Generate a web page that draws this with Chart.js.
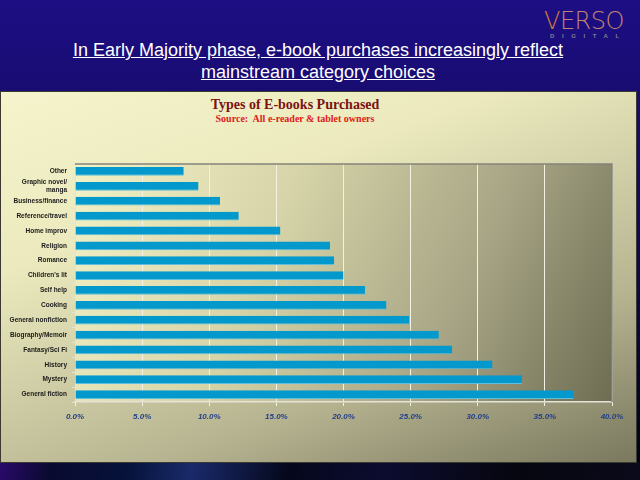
<!DOCTYPE html>
<html>
<head>
<meta charset="utf-8">
<script src="https://cdn.jsdelivr.net/npm/chart.js@4.4.0/dist/chart.umd.min.js"></script>
<style>
  html, body { margin: 0; padding: 0; }
  body { width: 640px; height: 480px; position: relative; overflow: hidden;
         background: linear-gradient(180deg, #1d0e84 0%, #120a5a 45%, #02020c 100%); font-family: "Liberation Sans", Arial, sans-serif; }
  #bottom { position: absolute; left: 0; top: 462px; width: 640px; height: 18px;
            background: linear-gradient(100deg, #2a0a6a 0%, #0a0a30 8%, #06123a 20%, #1a2a6a 30%, #05081c 45%, #0c0c30 60%, #060610 80%, #0a0a1a 100%); }
  #panel { position: absolute; left: 0; top: 91px; width: 637px; height: 372px; box-sizing: border-box;
           border: 1px solid #3a3a30;
           background: linear-gradient(160deg, #f6f4cc 0%, #ebe9bd 30%, #b8b692 70%, #7a785e 100%); }
  #headline { position: absolute; left: 0; top: 39px; width: 636px; text-align: center; color: #fff;
              font-family: "Liberation Sans", Arial, sans-serif; font-size: 18px; line-height: 22px;
              text-decoration: underline; }
  #logo { position: absolute; left: 544px; top: 7px; font-family: "DejaVu Sans", sans-serif; font-weight: 200; font-size: 24px;
          letter-spacing: -0.5px; color: #c08470; }
  #logo .v { color: #d07a38; }
  #digital { position: absolute; left: 550px; top: 33px; font-size: 6px; font-weight: bold; letter-spacing: 7.6px; color: #80808e; }
  #ctitle { position: absolute; left: 150px; width: 290px; top: 97px; text-align: center; font-family: "Liberation Serif", serif; }
  #ctitle .t { font-weight: bold; font-size: 14px; color: #7a1212; line-height: 16px; }
  #ctitle .s { font-weight: bold; font-size: 10px; color: #e0201a; line-height: 12px; }
  canvas { position: absolute; left: 0; top: 0; }
</style>
</head>
<body>
<div id="bottom"></div>
<div id="panel"></div>
<div id="headline">In Early Majority phase, e-book purchases increasingly reflect<br>mainstream category choices</div>
<div id="logo"><span class="v">V</span>ERSO</div>
<div id="digital">DIGITAL</div>
<div id="ctitle"><div class="t">Types of E-books Purchased</div><div class="s">Source:&nbsp; All e-reader &amp; tablet owners</div></div>
<canvas id="grafico" width="640" height="480"></canvas>
<script>
// categories from top to bottom
var categorie = ['Other', ['Graphic novel/', 'manga'], 'Business/finance', 'Reference/travel', 'Home improv',
    'Religion', 'Romance', "Children's lit", 'Self help', 'Cooking', 'General nonfiction',
    'Biography/Memoir', 'Fantasy/Sci Fi', 'History', 'Mystery', 'General fiction'];
// percent of owners
var percentuali = [8.1, 9.2, 10.8, 12.2, 15.3, 19.0, 19.3, 20.0, 21.6, 23.2, 24.9, 27.1, 28.1, 31.1, 33.3, 37.1];
var tickX = [0, 5, 10, 15, 20, 25, 30, 35, 40];

// gradient background + top/right border of the plot area
var sfondoPlot = {
    id: 'sfondoPlot',
    beforeDraw: function (chart) {
        var a = chart.chartArea;
        var ctx = chart.ctx;
        var g = ctx.createLinearGradient(a.left, a.top, a.right, a.bottom);
        g.addColorStop(0, '#f3f1c6');
        g.addColorStop(0.35, '#d6d4a8');
        g.addColorStop(0.7, '#a6a484');
        g.addColorStop(1, '#6e6c52');
        ctx.save();
        ctx.fillStyle = g;
        ctx.fillRect(a.left, a.top, a.right - a.left, a.bottom - a.top);
        ctx.restore();
    },
    afterDraw: function (chart) {
        var a = chart.chartArea;
        var ctx = chart.ctx;
        ctx.save();
        ctx.strokeStyle = '#85847a';
        ctx.lineWidth = 1.5;
        ctx.beginPath();
        ctx.moveTo(a.left, a.top);
        ctx.lineTo(a.right, a.top);
        ctx.lineTo(a.right, a.bottom);
        ctx.stroke();
        ctx.restore();
    }
};

var chart = new Chart(document.getElementById('grafico'), {
    type: 'bar',
    data: {
        labels: categorie,
        datasets: [{
            label: 'Types of E-books Purchased',
            data: percentuali,
            backgroundColor: '#0399cc',
            borderColor: '#5cc0dc',
            borderWidth: { bottom: 1 },
            borderSkipped: false,
            categoryPercentage: 1,
            barPercentage: 0.58
        }]
    },
    options: {
        indexAxis: 'y',
        responsive: false,
        animation: false,
        layout: { padding: { left: 0, top: 164, right: 28, bottom: 56 } },
        plugins: { legend: { display: false }, tooltip: { enabled: false } },
        scales: {
            x: {
                min: 0, max: 40,
                afterBuildTicks: function (s) { s.ticks = tickX.map(function (v) { return { value: v }; }); },
                afterFit: function (s) { s.height = 22; },
                grid: { color: '#f2f1e2', lineWidth: 1, tickLength: 4 },
                border: { color: '#e4e3d6', width: 1.5 },
                ticks: {
                    padding: 6,
                    color: '#23408a',
                    font: { family: 'Liberation Sans', size: 8, weight: 'bold', style: 'italic' },
                    callback: function (v) { return v.toFixed(1) + '%'; }
                }
            },
            y: {
                afterFit: function (s) { s.width = 75; },
                grid: { drawOnChartArea: false, offset: true, color: '#e4e3d6', tickLength: 3 },
                border: { color: '#e4e3d6', width: 1 },
                ticks: {
                    autoSkip: false,
                    padding: 5,
                    color: '#1a1a1a',
                    font: { family: 'Liberation Sans', size: 6.5, weight: 'bold', lineHeight: 1.15 }
                }
            }
        }
    },
    plugins: [sfondoPlot]
});
</script>
</body>
</html>
